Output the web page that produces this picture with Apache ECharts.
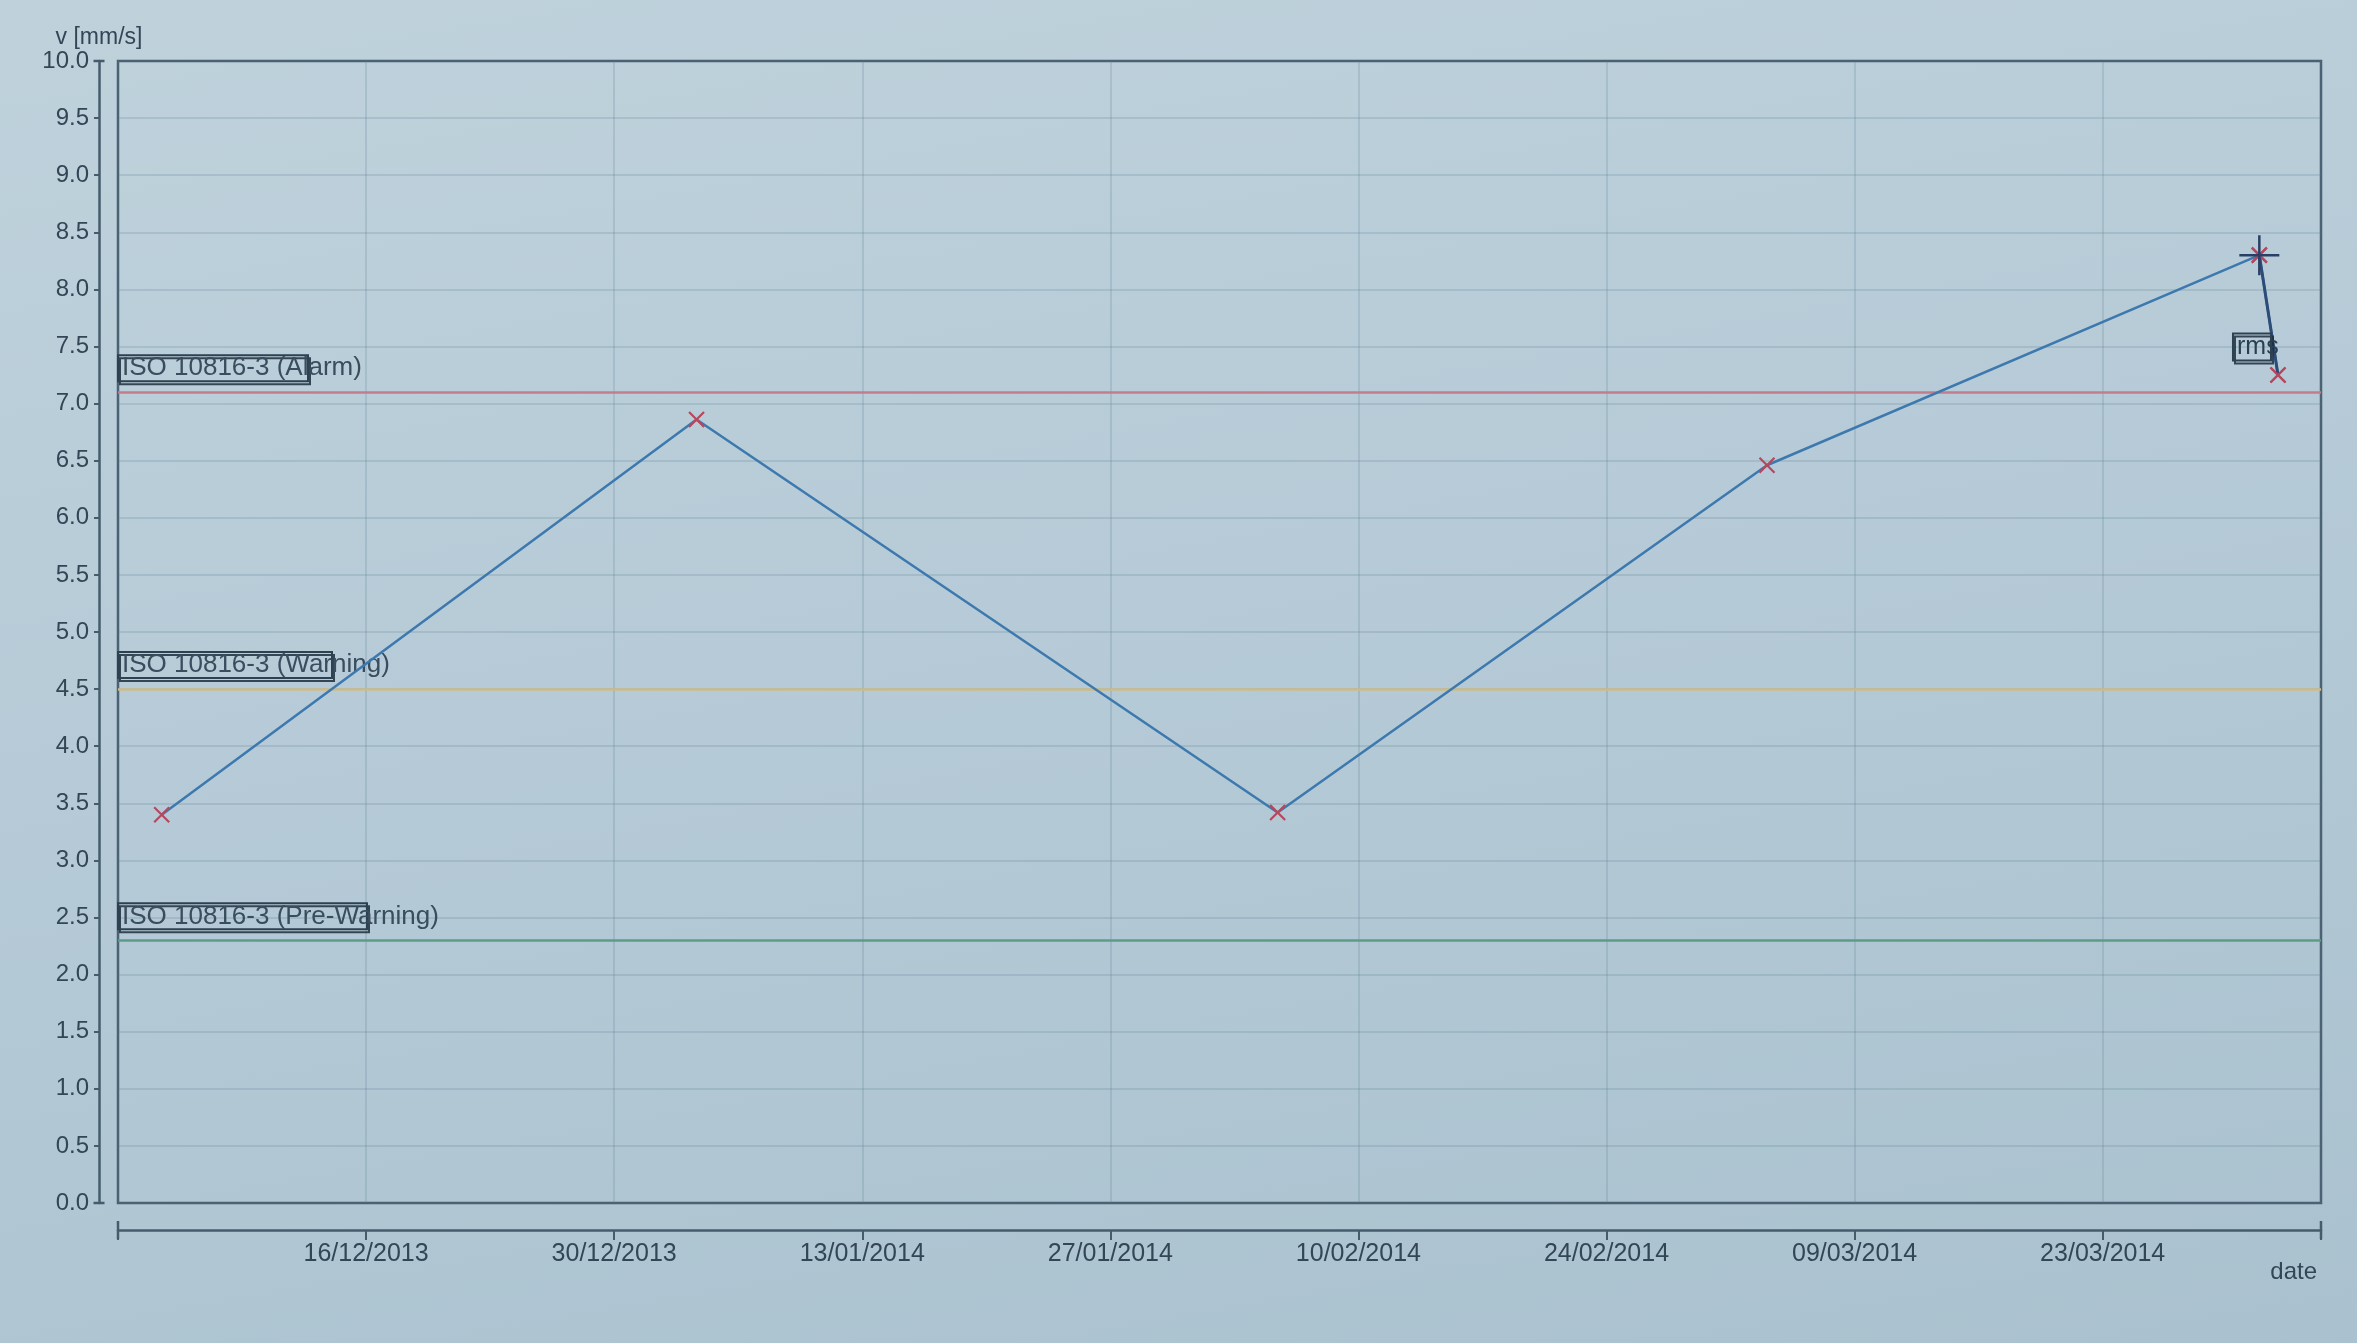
<!DOCTYPE html>
<html>
<head>
<meta charset="utf-8">
<script src="https://cdn.jsdelivr.net/npm/echarts/dist/echarts.min.js"></script>
<style>
html, body { margin: 0; padding: 0; }
body { width: 2357px; height: 1343px; overflow: hidden;
  background: linear-gradient(170deg, #bfd2dc 0%, #b6cbd7 45%, #aac1cf 100%); }
#chart { width: 2357px; height: 1343px; }
</style>
</head>
<body>
<div id="chart"></div>
<script>
// ---- data ----
const tickLabels = ['16/12/2013', '30/12/2013', '13/01/2014', '27/01/2014', '10/02/2014', '24/02/2014', '09/03/2014', '23/03/2014'];
const firstTickDate = '2013-12-16 00:00';
const lastTickDate = '2014-03-23 00:00';
const measureDates = ['2013-12-04 14:00', '2014-01-03 11:00', '2014-02-04 22:00', '2014-03-04 06:00', '2014-03-31 18:00', '2014-04-01 19:00'];
const rmsValues = [3.40, 6.86, 3.42, 6.46, 8.30, 7.25];
const thresholdNames = ['ISO 10816-3 (Alarm)', 'ISO 10816-3 (Warning)', 'ISO 10816-3 (Pre-Warning)'];
const thresholdValues = [7.1, 4.5, 2.3];
const seriesName = 'rms';

// ---- helpers ----
function utc(s) {
  const [d, t] = s.split(' ');
  const [Y, M, D] = d.split('-').map(Number);
  const [h, m] = t.split(':').map(Number);
  return Date.UTC(Y, M - 1, D, h, m);
}
const tickSpan = (utc(lastTickDate) - utc(firstTickDate)) / (tickLabels.length - 1);
function toAxis(s) { return 1 + (utc(s) - utc(firstTickDate)) / tickSpan; }

const points = measureDates.map((d, i) => [toAxis(d), rmsValues[i]]);

const txt = '#334656';
const frame = '#465c6c';
const gridCol = 'rgba(95,125,145,0.28)';
const thrColors = ['#c47c8c', '#cdbb8a', '#5c9c86'];
const thrBoxW = [186, 210, 245];

const crossPath = 'path://M0,0 L10,10 M10,0 L0,10';
const plusPath = 'path://M0,5 L10,5 M5,0 L5,10';

const boxStyle = {
  borderColor: '#2c4152', borderWidth: 2,
  shadowColor: 'rgba(30,45,60,0.85)', shadowOffsetX: 2, shadowOffsetY: 3, shadowBlur: 0
};

const chart = echarts.init(document.getElementById('chart'), null, { renderer: 'canvas' });
chart.setOption({
  backgroundColor: 'transparent',
  animation: false,
  textStyle: { fontFamily: 'Liberation Sans, Arial, sans-serif' },
  grid: { left: 118, right: 36, top: 61, bottom: 140, show: true, borderColor: frame, borderWidth: 2.5, backgroundColor: 'transparent' },
  xAxis: {
    type: 'value', min: 0, max: 8.88, interval: 1,
    position: 'bottom', offset: 27,
    name: 'date', nameLocation: 'end', nameGap: 0,
    nameTextStyle: { fontSize: 24, color: txt, align: 'right', verticalAlign: 'top', padding: [30, 4, 0, 0] },
    axisLine: { show: true, onZero: false, lineStyle: { color: frame, width: 2.5 }, symbol: ['rect', 'rect'], symbolSize: [18, 2.5] },
    axisTick: { show: true, inside: false, length: 10, lineStyle: { color: frame, width: 2 } },
    axisLabel: {
      fontSize: 25, color: txt, margin: 12,
      formatter: v => { const k = Math.round(v); return (Math.abs(v - k) < 1e-6 && k >= 1 && k <= tickLabels.length) ? tickLabels[k - 1] : ''; }
    },
    splitLine: { show: true, lineStyle: { color: gridCol, width: 1.5 } }
  },
  yAxis: {
    type: 'value', min: 0, max: 10, interval: 0.5,
    position: 'left', offset: 19,
    name: 'v [mm/s]', nameLocation: 'end', nameGap: 10,
    nameTextStyle: { fontSize: 23, color: txt, align: 'center' },
    axisLine: { show: true, onZero: false, lineStyle: { color: frame, width: 2.5 }, symbol: ['rect', 'rect'], symbolSize: [11, 2.5] },
    axisTick: { show: true, inside: false, length: 5, lineStyle: { color: frame, width: 2 } },
    axisLabel: { fontSize: 24, color: txt, margin: 10, formatter: v => v.toFixed(1) },
    splitLine: { show: true, lineStyle: { color: gridCol, width: 1.5 } }
  },
  series: [
    {
      name: seriesName, type: 'line', data: points, z: 3,
      lineStyle: { color: '#3d79ae', width: 2.5 },
      symbol: crossPath, symbolSize: 15,
      itemStyle: { color: 'rgba(0,0,0,0)', borderColor: '#b5485e', borderWidth: 2.2 },
      label: { show: false },
      markLine: {
        silent: true, symbol: ['none', 'none'], z: 2,
        data: thresholdNames.map((n, i) => ({
          name: n, yAxis: thresholdValues[i],
          lineStyle: { color: thrColors[i], width: 2.5, type: 'solid' },
          label: Object.assign({
            show: true, position: 'insideStartTop', formatter: '{b}', distance: [0, 11],
            fontSize: 26, lineHeight: 26, color: '#3a4d5e', width: thrBoxW[i], overflow: 'none',
            padding: [0, 0, 0, 4]
          }, boxStyle)
        }))
      },
      markPoint: {
        silent: true, symbol: plusPath, symbolSize: 40,
        itemStyle: { color: 'rgba(0,0,0,0)', borderColor: '#293f66', borderWidth: 2.5 },
        label: { show: false },
        data: [{ coord: points[points.length - 2] }]
      }
    },
    {
      name: seriesName + '-sel', type: 'line', z: 4,
      data: points.slice(-2).map((p, i, arr) => i === arr.length - 1 ? {
        value: p,
        label: Object.assign({
          show: true, position: 'top', distance: 6, align: 'left', offset: [-45, 0],
          formatter: seriesName,
          fontSize: 25, lineHeight: 25, color: '#2c3f50', width: 34, overflow: 'none',
          padding: [1, 0, 1, 4]
        }, boxStyle)
      } : p),
      lineStyle: { color: '#2d4c78', width: 3 },
      symbol: crossPath, symbolSize: 15,
      itemStyle: { color: 'rgba(0,0,0,0)', borderColor: '#b5485e', borderWidth: 2.2 },
      label: { show: false }
    }
  ]
});
</script>
</body>
</html>
